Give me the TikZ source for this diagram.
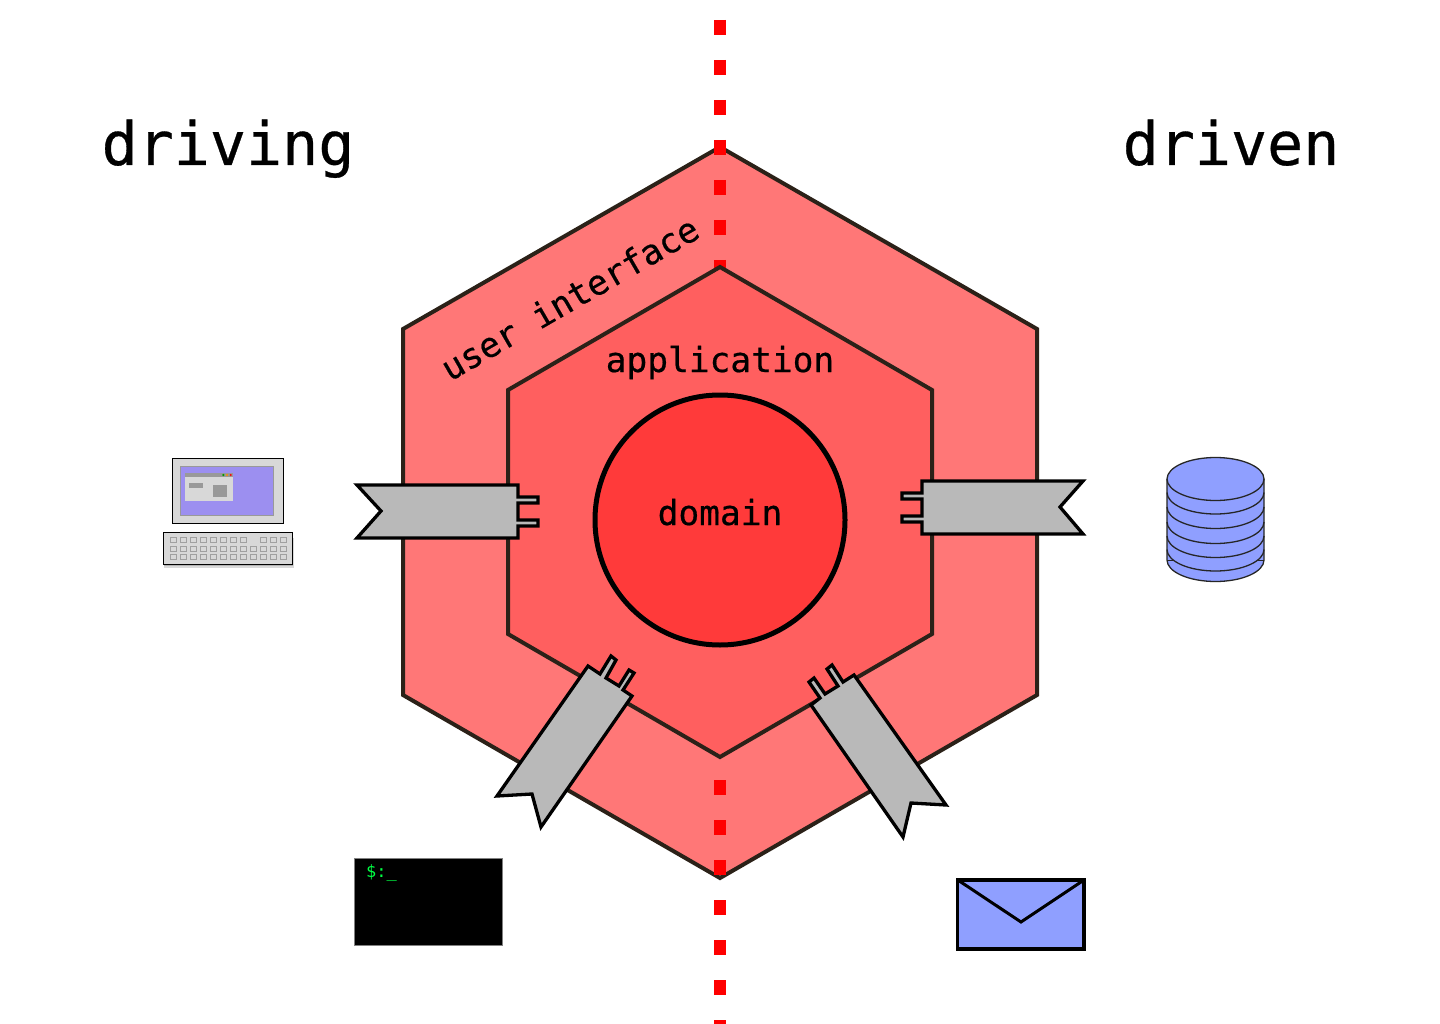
\documentclass[tikz,border=0pt]{standalone}
\usepackage{fontspec}
\newfontfamily\labelfont[FakeBold=0.5]{DejaVu Sans Mono}
\newfontfamily\promptfont{DejaVu Sans Mono}
\definecolor{hexline}{HTML}{2B2118}
\definecolor{hexouter}{HTML}{FF7777}
\definecolor{hexinner}{HTML}{FF5F5F}
\definecolor{hexcore}{HTML}{FF3A3A}
\definecolor{adapter}{HTML}{B9B9B9}
\definecolor{device}{HTML}{8F9FFF}
\definecolor{screenblue}{HTML}{9C8FF0}
\definecolor{panel}{HTML}{D8D8D8}
\definecolor{keyline}{HTML}{A0A0A0}
\definecolor{wingray}{HTML}{999999}
\definecolor{promptgreen}{HTML}{00FF44}
\tikzset{
  hexagon/.style={draw=hexline,line width=4pt,line join=miter},
  adapterbody/.style={draw=black,fill=adapter,line width=3.3pt,line join=miter},
  bigtext/.style={font=\labelfont\fontsize{60}{60}\selectfont,inner sep=0pt,anchor=base},
  midtext/.style={font=\labelfont\fontsize{34.5}{34.5}\selectfont,inner sep=0pt,anchor=base},
  thinbox/.style={draw=black,line width=1pt},
  keycap/.style={draw=keyline,fill=panel,line width=1.3pt},
  dbline/.style={draw=black!85,line width=1.3pt}
}
\begin{document}
\begin{tikzpicture}[x=1pt,y=-1pt]
\useasboundingbox (0,0) rectangle (1440,1024);
\fill[white] (0,0) rectangle (1440,1024);
% outer hexagon
\draw[hexagon,fill=hexouter] (720,147)--(1037,329)--(1037,695)--(720,878)--(403,695)--(403,329)--cycle;
% boundary
\coordinate (linetop) at (720,20);
\coordinate (linebot) at (720,1024);
\draw[red,line width=11.3pt,dash pattern=on 15pt off 25pt] (linetop)--(linebot);
% inner hexagon
\draw[hexagon,fill=hexinner] (720,267)--(932,390)--(932,634)--(720,757)--(508,634)--(508,390)--cycle;
% core
\node[circle,draw=black,fill=hexcore,line width=5pt,minimum size=250pt,inner sep=0pt] (core) at (720,520) {};
% labels
\node[bigtext] (driving) at (228,165) {driving};
\node[bigtext] (driven) at (1231,165) {driven};
\node[midtext] (app) at (720,372) {application};
\node[midtext] (dom) at (720,525) {domain};
\node[midtext,anchor=center,rotate=30] (uitext) at (569.5,298) {user interface};
% adapters
\draw[adapterbody] (357,485)--(518,485)--(518,497)--(538,497)--(538,503)--(518,503)--(518,520)--(538,520)--(538,526)--(518,526)--(518,538)--(357,538)--(381,511)--cycle;
\draw[adapterbody] (1083,481)--(922,481)--(922,493)--(902,493)--(902,499)--(922,499)--(922,516)--(902,516)--(902,522)--(922,522)--(922,534)--(1083,534)--(1060,507)--cycle;
\draw[adapterbody] (588,666)--(600,674)--(611,656)--(616,660)--(606,678)--(619,686)--(629,670)--(634,673)--(623,690)--(632,696)--(541,827)--(532,794)--(497,796)--cycle;
\draw[adapterbody] (854,675)--(843,682)--(832,665)--(827,669)--(838,686)--(825,694)--(814,678)--(809,682)--(820,698)--(811,705)--(903,837)--(911,803)--(946,805)--cycle;
% computer
\draw[thinbox,fill=panel] (172.5,458.5) rectangle (283.5,523.5);
\draw[draw=wingray,fill=screenblue,line width=1pt] (180.5,466.5) rectangle (273.5,515.5);
\fill[panel] (185,477) rectangle (233,501);
\fill[wingray] (185,473) rectangle (233,477.3);
\fill[green!60!black] (223.3,475) circle (1.2);
\fill[orange!90!yellow] (227,475) circle (1.2);
\fill[red] (230.7,475) circle (1.2);
\fill[wingray] (189,483) rectangle (203,488);
\fill[wingray] (213,485) rectangle (227,497);
\fill[black!15] (164,538) rectangle (294,567.5);
\fill[black!30] (164,538) rectangle (293,566);
\draw[thinbox,fill=panel] (163.5,532.5) rectangle (292.5,564);
\foreach \i in {0,...,7,9,10,11} \draw[keycap] ({170.5+10*\i},537.5) rectangle ++(6,5);
\foreach \i in {0,...,11} {
  \draw[keycap] ({170.5+10*\i},546.5) rectangle ++(6,5);
  \draw[keycap] ({170.5+10*\i},554.5) rectangle ++(6,5);
}
% database
\draw[dbline,fill=device] (1167,479) -- (1167,560) arc[start angle=180,end angle=360,x radius=48.5,y radius=-21.5] -- (1264,479) arc[start angle=0,end angle=180,x radius=48.5,y radius=-21.5] -- cycle;
\foreach \c in {479,492.5,507,522,536,549.5}
  \draw[dbline] (1167,\c) arc[start angle=180,end angle=360,x radius=48.5,y radius=-21.5];
\draw[dbline] (1167,560.5)--(1173,560.5) (1258,560.5)--(1264,560.5);
% terminal
\draw[draw=black!50,fill=black,line width=1pt] (354.5,858.5) rectangle (502.5,945);
\node[font=\promptfont\fontsize{17}{17}\selectfont,text=promptgreen,anchor=west,inner sep=0pt] (prompt) at (366,873.5) {\$:\_};
% envelope
\draw[draw=black,fill=device,line width=3.2pt,line join=miter] (957.8,880) rectangle (1084,949);
\draw[draw=black,line width=3pt] (957.8,880)--(1021,922)--(1084,880);
\end{tikzpicture}
\end{document}
